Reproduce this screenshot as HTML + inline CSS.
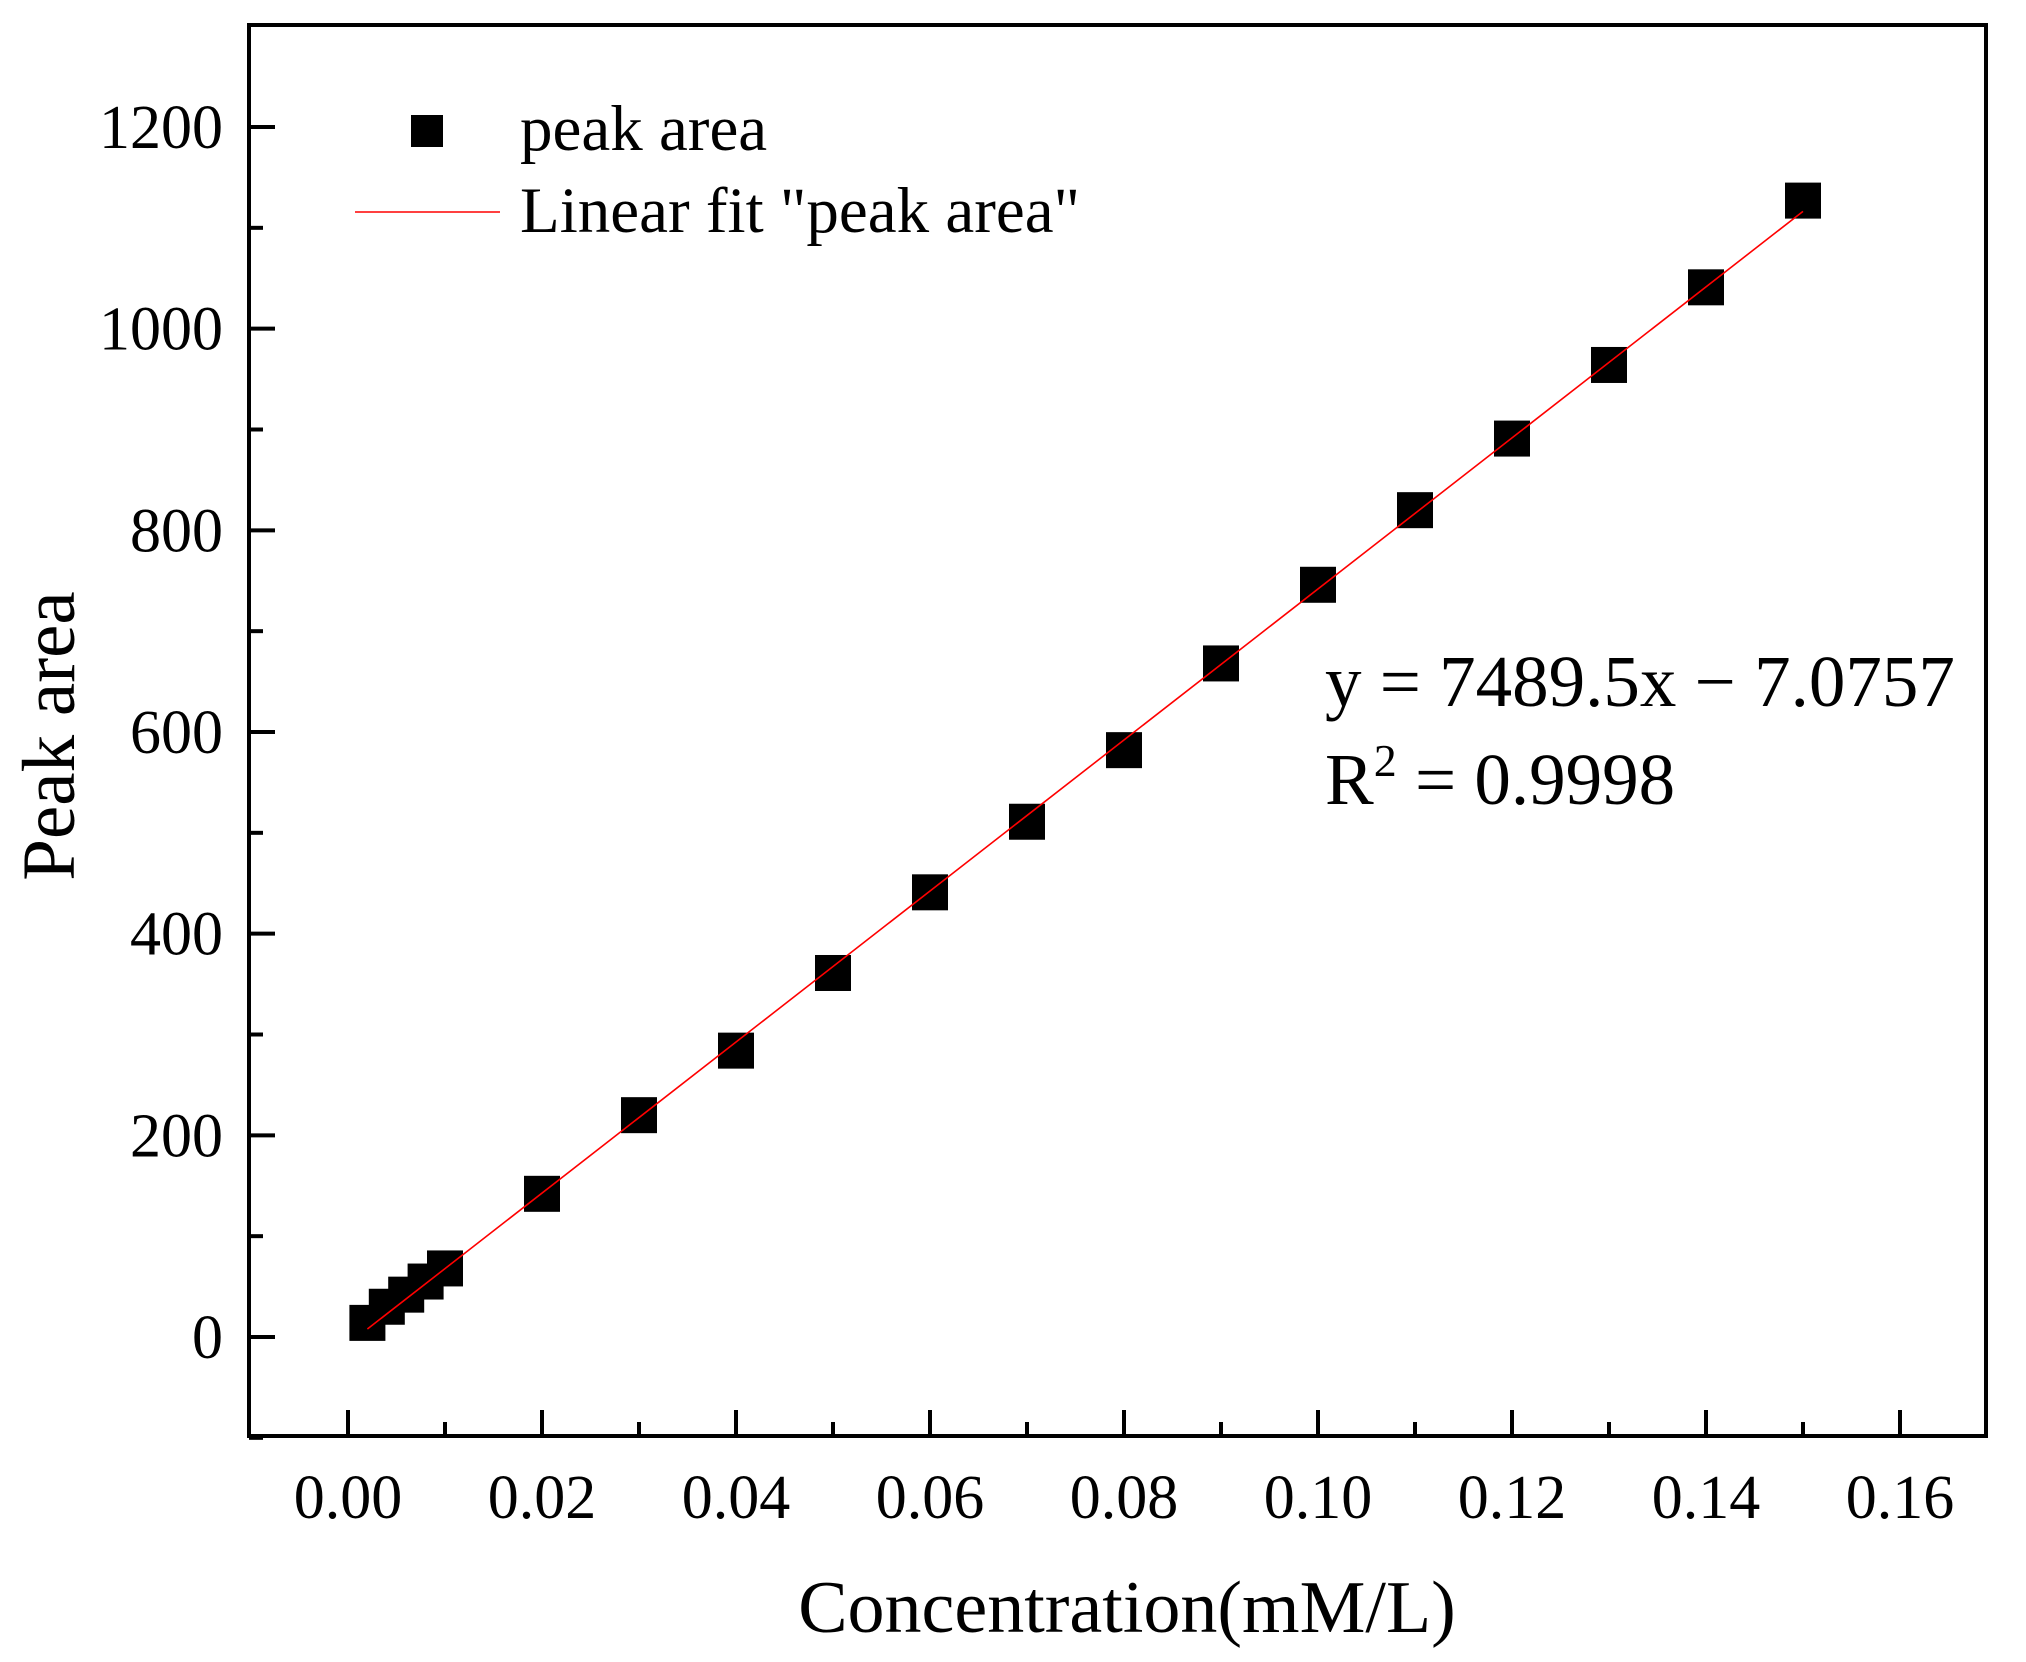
<!DOCTYPE html>
<html><head><meta charset="utf-8"><style>
html,body{margin:0;padding:0;background:#fff}
svg{display:block}
text{font-family:"Liberation Serif",serif;fill:#000}
</style></head><body>
<svg id="chart" width="2026" height="1662" viewBox="0 0 2026 1662" xmlns="http://www.w3.org/2000/svg">
<g id="marks"></g>
<g id="axes"></g>
</svg>
<script>
const xValues=[0.002,0.004,0.006,0.008,0.01,0.02,0.03,0.04,0.05,0.06,0.07,0.08,0.09,0.10,0.11,0.12,0.13,0.14,0.15];
const yValues=[14,30,42,55,68,142,220,284,361,441,511,582,668,746,820,891,964,1041,1127];
const xTicks=[0,0.02,0.04,0.06,0.08,0.10,0.12,0.14,0.16];
const xTickLabels=["0.00","0.02","0.04","0.06","0.08","0.10","0.12","0.14","0.16"];
const yTicks=[0,200,400,600,800,1000,1200];
const fitSlope=7489.5, fitIntercept=-7.0757;

const NS="http://www.w3.org/2000/svg";
const L=249,R=1986,T=25,B=1436;
function sx(v){return 348+(v-0)/0.16*(1900-348);}
function sy(v){return 1337-(v/1200)*(1337-127);}
function mk(tag,attrs,parent,txt){const e=document.createElementNS(NS,tag);for(const k in attrs)e.setAttribute(k,attrs[k]);if(txt!==undefined)e.textContent=txt;parent.appendChild(e);return e;}
const axes=document.getElementById('axes'),marks=document.getElementById('marks');

let f=mk('rect',{x:L,y:T,width:R-L,height:B-T,fill:'none',stroke:'#000','stroke-width':4},axes);



xTicks.forEach((v,i)=>{
  const x=sx(v);
  let t=mk('line',{x1:x,x2:x,y1:B,y2:B-26,stroke:'#000','stroke-width':4},axes);
  
  
  let lb=mk('text',{x:x,y:1518,'font-size':62,'text-anchor':'middle'},axes,xTickLabels[i]);
  
  
  if(i<xTicks.length-1){
    const xm=sx(v+0.01);
    let m=mk('line',{x1:xm,x2:xm,y1:B,y2:B-14,stroke:'#000','stroke-width':4},axes);
    
    
  }
});
yTicks.forEach((v,i)=>{
  const y=sy(v);
  let t=mk('line',{x1:L,x2:L+26,y1:y,y2:y,stroke:'#000','stroke-width':4},axes);
  
  
  let lb=mk('text',{x:223,y:y+21,'font-size':62,'text-anchor':'end'},axes,String(v));
  
  
});
[-100,100,300,500,700,900,1100].forEach(v=>{
  const y=sy(v);
  let m=mk('line',{x1:L,x2:L+14,y1:y,y2:y,stroke:'#000','stroke-width':4},axes);
  
  
});

xValues.forEach((xv,i)=>{
  let r=mk('rect',{x:sx(xv)-18,y:sy(yValues[i])-18,width:36,height:36,fill:'#000'},marks);
  
  
});
const x0=xValues[0],x1=xValues[xValues.length-1];
let fl=mk('line',{x1:sx(x0),y1:sy(fitSlope*x0+fitIntercept),x2:sx(x1),y2:sy(fitSlope*x1+fitIntercept),stroke:'#ff0000','stroke-width':1.6},marks);



let xt=mk('text',{x:1127,y:1632,'font-size':74,'text-anchor':'middle'},axes,'Concentration(mM/L)');


let yt=mk('text',{x:0,y:0,'font-size':75,'text-anchor':'middle',transform:'translate(74,736) rotate(-90)'},axes,'Peak area');



const lg=mk('g',{},axes);


let lm=mk('rect',{x:411,y:115,width:32,height:32,fill:'#000'},lg);


let lt1=mk('text',{x:520,y:150,'font-size':65},lg,'peak area');


let ll=mk('line',{x1:355,x2:500,y1:212,y2:212,stroke:'#ff0000','stroke-width':1.6},lg);


let lt2=mk('text',{x:520,y:232,'font-size':65},lg,'Linear fit "peak area"');



let eq=mk('text',{x:1325,y:706,'font-size':73},axes,'y = 7489.5x \u2212 7.0757');


let r2=mk('text',{x:1325,y:804,'font-size':73},axes);


r2.appendChild(document.createTextNode('R'));
let sup=mk('tspan',{'font-size':46,dy:-28},r2,'2');
let rest=mk('tspan',{dy:28},r2,' = 0.9998');
</script>
</body></html>
